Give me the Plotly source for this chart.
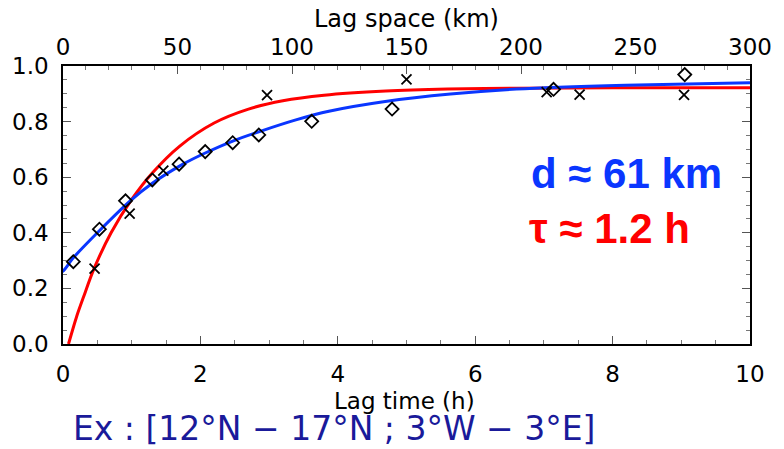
import plotly.graph_objects as go

# ---- data ----
diamond_t = [0.15, 0.53, 0.91, 1.30, 1.69, 2.07, 2.47, 2.85, 3.62, 4.79, 7.14, 9.05]
diamond_r = [0.296, 0.413, 0.515, 0.590, 0.647, 0.692, 0.724, 0.752, 0.801, 0.845, 0.916, 0.969]

cross_t = [0.46, 0.97, 1.46, 2.97, 5.00, 7.04, 7.52, 9.04]
cross_r = [0.271, 0.469, 0.624, 0.895, 0.952, 0.906, 0.897, 0.896]

blue_t = [-0.06, 0.0, 0.15, 0.54, 0.97, 1.30, 1.74, 2.07, 2.48, 2.86, 3.39, 3.87, 4.69, 5.64, 6.60, 8.19, 10.0]
blue_r = [0.254, 0.262, 0.31, 0.41, 0.513, 0.578, 0.646, 0.687, 0.731, 0.764, 0.806, 0.837, 0.872, 0.899, 0.917, 0.931, 0.940]

red_t = [0.08, 0.20, 0.30, 0.45, 0.70, 1.00, 1.30, 1.70, 2.20, 2.70, 3.20, 3.80, 4.70, 5.60, 6.60, 8.00, 10.0]
red_r = [0.0, 0.10, 0.17, 0.27, 0.40, 0.52, 0.615, 0.712, 0.795, 0.845, 0.875, 0.895, 0.910, 0.917, 0.920, 0.922, 0.922]

x_range = [0, 10]
x2_range = [0, 300]
y_range = [0, 1.0]

BLUE = "#0a36ff"
RED = "#ff0000"
TICKFONT = dict(family="DejaVu Sans", size=23, color="black")

fig = go.Figure()
fig.add_trace(go.Scatter(x=red_t, y=red_r, mode="lines",
                         line=dict(color=RED, width=3, shape="spline", smoothing=0.8),
                         showlegend=False, hoverinfo="skip"))
fig.add_trace(go.Scatter(x=blue_t, y=blue_r, mode="lines",
                         line=dict(color=BLUE, width=3, shape="spline", smoothing=0.8),
                         showlegend=False, hoverinfo="skip"))
fig.add_trace(go.Scatter(x=diamond_t, y=diamond_r, mode="markers",
                         marker=dict(symbol="diamond-open", size=10, color="black",
                                     line=dict(width=1.8, color="black")),
                         showlegend=False, cliponaxis=False))
fig.add_trace(go.Scatter(x=cross_t, y=cross_r, mode="markers",
                         marker=dict(symbol="x-thin-open", size=10, color="black",
                                     line=dict(width=1.8, color="black")),
                         showlegend=False, cliponaxis=False))
# invisible trace that anchors the top (lag space) axis
fig.add_trace(go.Scatter(x=x2_range, y=[None, None], xaxis="x2", mode="lines",
                         showlegend=False, hoverinfo="skip"))

fig.update_layout(
    width=784, height=449,
    margin=dict(l=61, r=27, t=66, b=105),
    paper_bgcolor="white", plot_bgcolor="white",
    xaxis=dict(range=x_range, dtick=2, tick0=0, showgrid=False, zeroline=False,
               showline=True, linecolor="black", linewidth=1.5, mirror=False,
               ticks="inside", ticklen=8, tickcolor="#555", tickwidth=1,
               minor=dict(dtick=0.5, ticks="inside", ticklen=4, tickcolor="#777"),
               tickfont=TICKFONT, ticklabelstandoff=9),
    xaxis2=dict(range=x2_range, overlaying="x", side="top", anchor="y", dtick=50, tick0=0,
                showgrid=False, zeroline=False,
                showline=True, linecolor="black", linewidth=1.5,
                ticks="inside", ticklen=8, tickcolor="#555", tickwidth=1,
                minor=dict(dtick=10, ticks="inside", ticklen=4, tickcolor="#777"),
                tickfont=TICKFONT, ticklabelstandoff=0),
    yaxis=dict(range=y_range, dtick=0.2, tick0=0, tickformat=".1f",
               showgrid=False, zeroline=False,
               showline=True, linecolor="black", linewidth=1.5, mirror="ticks",
               ticks="inside", ticklen=8, tickcolor="#555", tickwidth=1,
               minor=dict(dtick=0.05, ticks="inside", ticklen=4, tickcolor="#777"),
               tickfont=TICKFONT, ticklabelstandoff=8),
)

fig.add_annotation(text="Lag space (km)", xref="paper", yref="paper", x=0.5, y=1.17,
                   xanchor="center", yanchor="middle", showarrow=False,
                   font=dict(family="DejaVu Sans", size=24, color="black"))
fig.add_annotation(text="Lag time (h)", xref="paper", yref="paper", x=0.497, y=-0.205,
                   xanchor="center", yanchor="middle", showarrow=False,
                   font=dict(family="DejaVu Sans", size=23, color="black"))
fig.add_annotation(text="d ≈ 61 km", xref="paper", yref="paper", x=0.678, y=0.614,
                   xanchor="left", yanchor="middle", showarrow=False,
                   font=dict(family="Liberation Sans", size=42, color=BLUE, weight="bold"))
fig.add_annotation(text="τ ≈ 1.2 h", xref="paper", yref="paper", x=0.676, y=0.415,
                   xanchor="left", yanchor="middle", showarrow=False,
                   font=dict(family="Liberation Sans", size=42, color=RED, weight="bold"))
fig.add_annotation(text="Ex : [12°N − 17°N ; 3°W − 3°E]", xref="paper", yref="paper",
                   x=0.011, y=-0.303, xanchor="left", yanchor="middle", showarrow=False,
                   font=dict(family="DejaVu Sans", size=33, color="#1a1a9a"))

fig.write_html("out.html")
